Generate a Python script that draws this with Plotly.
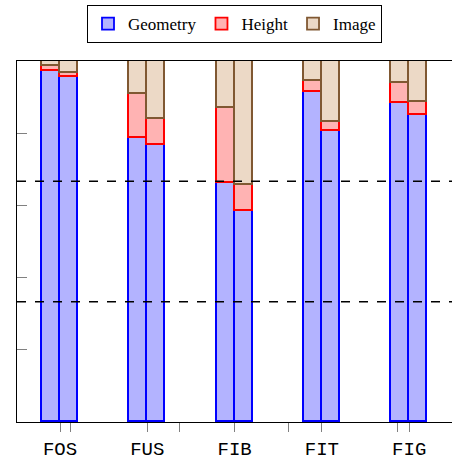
import plotly.graph_objs as go

categories = ['FOS', 'FUS', 'FIB', 'FIT', 'FIG']
# two bars per category, stacked shares (sum to 1)
geometry = [0.973, 0.957, 0.786, 0.766, 0.661, 0.584, 0.913, 0.806, 0.884, 0.851]
height = [0.013, 0.009, 0.123, 0.074, 0.209, 0.073, 0.031, 0.026, 0.056, 0.036]
image = [1 - g - h for g, h in zip(geometry, height)]
thresholds = [1 / 3, 2 / 3]
extra_ticks = [0.123, 1.373, 2.62, 3.87]

bar_w = 0.206
xpos = []
for i in range(len(categories)):
    xpos += [i - bar_w / 2, i + bar_w / 2]

series = [
    ('Geometry', geometry, 'rgb(179,179,255)', 'rgb(0,0,255)'),
    ('Height', height, 'rgb(255,179,179)', 'rgb(255,0,0)'),
    ('Image', image, 'rgb(236,217,198)', 'rgb(128,88,50)'),
]

fig = go.Figure()
for name, vals, fill, edge in series:
    fig.add_trace(go.Bar(
        x=xpos, y=vals, name=name, width=bar_w,
        marker=dict(color=fill, line=dict(color=edge, width=1.8)),
    ))

for t in thresholds:
    fig.add_shape(type='line', xref='paper', x0=0, x1=1, yref='y', y0=t, y1=t,
                  line=dict(color='black', width=1.5, dash='dash'))

fig.update_layout(
    width=452, height=462,
    margin=dict(l=17, r=0, t=61, b=40, autoexpand=False),
    barmode='stack', bargap=0,
    plot_bgcolor='white', paper_bgcolor='white',
    showlegend=True,
    legend=dict(orientation='h', x=0.5, xanchor='center', y=1.155, yanchor='top',
                traceorder='normal',
                bordercolor='black', borderwidth=1, bgcolor='white',
                font=dict(family='Liberation Serif', size=17, color='black'),
                itemwidth=30, tracegroupgap=0),
    xaxis=dict(range=[-0.4925, 4.49], tickvals=list(range(len(categories))),
               ticktext=categories, ticks='outside', ticklen=9, tickcolor='gray',
               showline=True, linecolor='black', linewidth=1.3, mirror=True,
               showgrid=False, zeroline=False, automargin=False,
               tickfont=dict(family='Liberation Mono', size=19, color='black')),
    xaxis2=dict(range=[-0.4925, 4.49], overlaying='x', side='bottom',
                tickvals=extra_ticks, ticktext=['' for _ in extra_ticks],
                ticks='outside', ticklen=9, tickcolor='gray', automargin=False,
                showgrid=False, zeroline=False, showline=False),
    yaxis=dict(range=[0, 1], tickvals=[0.2, 0.4, 0.6, 0.8], showticklabels=False,
               ticks='inside', ticklen=10, tickcolor='gray', automargin=False,
               showline=True, linecolor='black', linewidth=1.3,
               showgrid=False, zeroline=False),
)
fig.add_trace(go.Scatter(x=[0], y=[0], xaxis='x2', mode='markers',
                         marker=dict(opacity=0), showlegend=False, hoverinfo='skip'))

# drop the browser's default page margin so the figure sits at the corner
fig.write_html("out.html", config={'displayModeBar': False},
               post_script="document.body.style.margin='0';")
